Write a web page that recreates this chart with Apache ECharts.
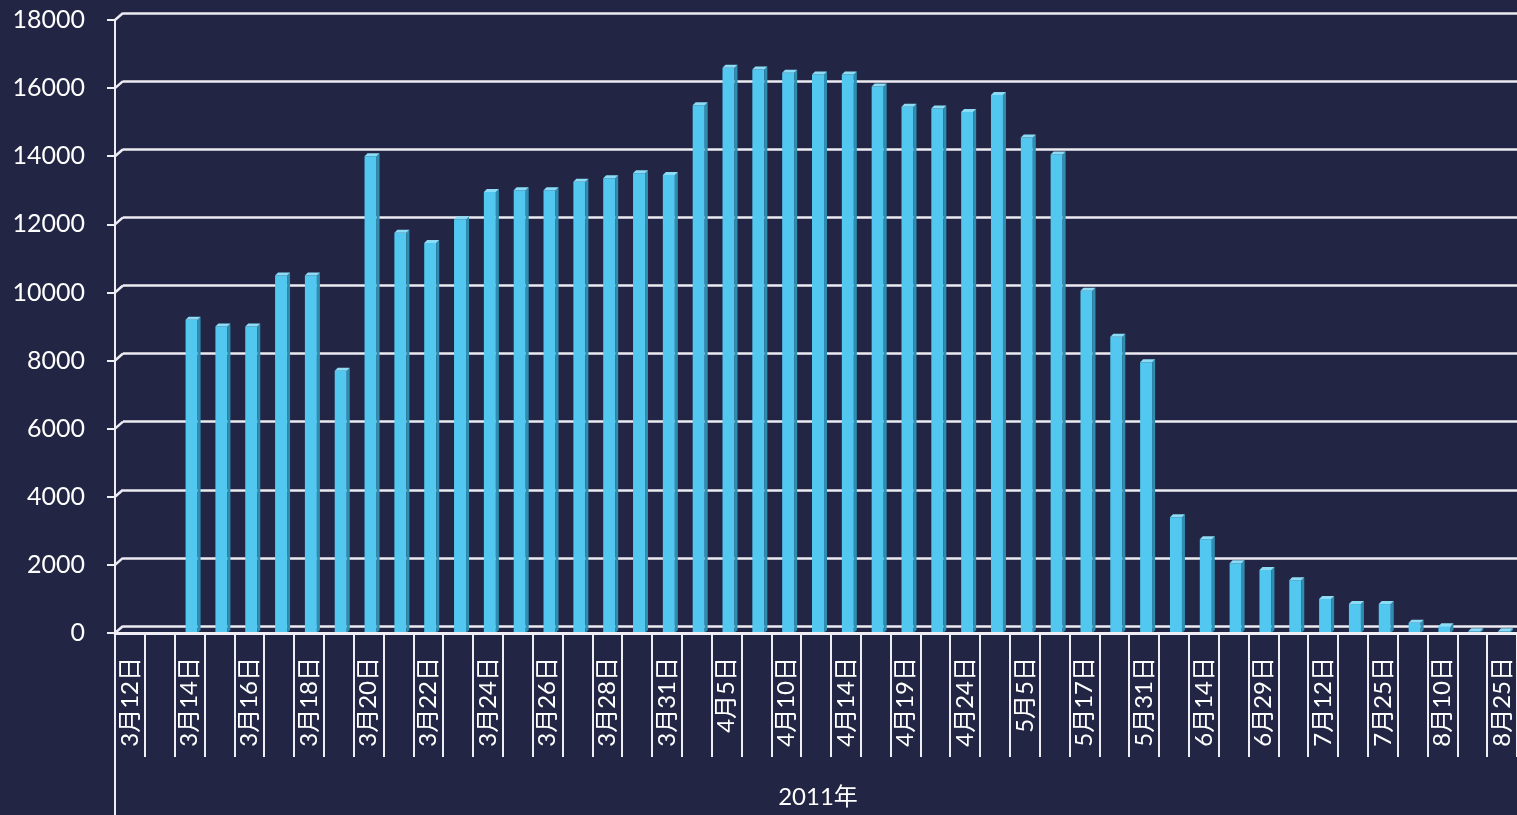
<!DOCTYPE html>
<html>
<head>
<meta charset="utf-8">
<script src="https://cdn.jsdelivr.net/npm/echarts@6/dist/echarts.min.js"></script>
<style>
html,body{margin:0;padding:0;background:#222644;}
#chart{width:1517px;height:815px;}
</style>
</head>
<body>
<div id="chart"></div>
<script>
const categories = ['3月12日','3月13日','3月14日','3月15日','3月16日','3月17日','3月18日','3月19日','3月20日','3月21日',
  '3月22日','3月23日','3月24日','3月25日','3月26日','3月27日','3月28日','3月30日','3月31日','4月3日',
  '4月5日','4月7日','4月10日','4月12日','4月14日','4月17日','4月19日','4月21日','4月24日','4月28日',
  '5月5日','5月10日','5月17日','5月24日','5月31日','6月7日','6月14日','6月21日','6月29日','7月5日',
  '7月12日','7月19日','7月25日','8月2日','8月10日','8月17日','8月25日'];
const values = [0,0,9200,9000,9000,10500,10500,7700,14000,11750,
  11450,12150,12950,13000,13000,13250,13350,13500,13450,15500,
  16600,16550,16450,16400,16400,16050,15450,15400,15300,15800,
  14550,14050,10050,8700,7950,3400,2750,2050,1850,1550,
  1000,850,850,300,200,50,50];
const yTicks = [0,2000,4000,6000,8000,10000,12000,14000,16000,18000];
const groupLabel = '2011年';

const FONT = 'Lato, "Noto Sans CJK JP", sans-serif';
const FRONT = '#52c7ef', SIDE = '#2f8db2', TOPC = '#8cdcf6';

const chart = echarts.init(document.getElementById('chart'));

function renderBar(params, api) {
  const v = api.value(1);
  if (!v) return null;
  const top = api.coord([api.value(0), v]);
  const base = api.coord([api.value(0), 0]);
  const w = 12, d = 3, off = 2;
  const x0 = top[0] - w / 2 + off;
  return {
    type: 'group',
    children: [
      {type: 'rect', shape: {x: x0, y: top[1], width: w, height: base[1] - top[1]}, style: {fill: FRONT}},
      {type: 'polygon', shape: {points: [[x0 + w, top[1]], [x0 + w + d, top[1] - d], [x0 + w + d, base[1] - d], [x0 + w, base[1]]]}, style: {fill: SIDE}},
      {type: 'polygon', shape: {points: [[x0, top[1]], [x0 + d, top[1] - d], [x0 + w + d, top[1] - d], [x0 + w, top[1]]]}, style: {fill: TOPC}}
    ]
  };
}

function renderJog(params, api) {
  const p = api.coord([0, api.value(1)]);
  const x0 = params.coordSys.x;
  return {
    type: 'line',
    shape: {x1: x0, y1: p[1], x2: x0 + 8, y2: p[1] - 7},
    style: {stroke: '#ececf2', lineWidth: 2.5}
  };
}

chart.setOption({
  backgroundColor: '#222644',
  animation: false,
  grid: [
    {left: 115, top: 20, bottom: 182, right: -5, containLabel: false},
    {left: 123, top: 13, bottom: 189, right: -20, containLabel: false}
  ],
  xAxis: [
    {
      type: 'category', gridIndex: 0, data: categories, z: 5,
      axisLine: {lineStyle: {color: '#eeeef4', width: 3}},
      axisTick: {show: true, interval: 0, length: 124, lineStyle: {color: '#eeeef4', width: 2}},
      axisLabel: {interval: 1, rotate: 90, margin: 24, color: '#ffffff', fontSize: 24, fontFamily: FONT}
    },
    {
      type: 'category', gridIndex: 1, data: categories, show: false
    }
  ],
  yAxis: [
    {
      type: 'value', gridIndex: 0, min: 0, max: 18000, interval: 2000,
      axisLine: {show: true, lineStyle: {color: '#eeeef4', width: 2}},
      axisTick: {show: true, length: 8, lineStyle: {color: '#eeeef4', width: 2}},
      axisLabel: {color: '#ffffff', fontSize: 25, fontFamily: FONT, margin: 30, formatter: v => String(v)},
      splitLine: {show: false}
    },
    {
      type: 'value', gridIndex: 1, min: 0, max: 18000, interval: 2000,
      axisLine: {show: false}, axisTick: {show: false}, axisLabel: {show: false},
      splitLine: {show: true, lineStyle: {color: '#ececf2', width: 2.5}}
    }
  ],
  series: [
    {
      type: 'custom', xAxisIndex: 0, yAxisIndex: 0,
      data: values.map((v, i) => [i, v]),
      renderItem: renderBar, z: 2
    },
    {
      type: 'custom', xAxisIndex: 0, yAxisIndex: 0,
      data: yTicks.map(t => [0, t]),
      renderItem: renderJog, z: 1, silent: true
    }
  ],
  graphic: [
    {type: 'line', shape: {x1: 115, y1: 633, x2: 115, y2: 815}, style: {stroke: '#eeeef4', lineWidth: 2}},
    {type: 'text', x: 818, y: 797, style: {text: groupLabel, fill: '#ffffff', font: '24px ' + FONT, textAlign: 'center', textVerticalAlign: 'middle'}}
  ]
});
</script>
</body>
</html>
